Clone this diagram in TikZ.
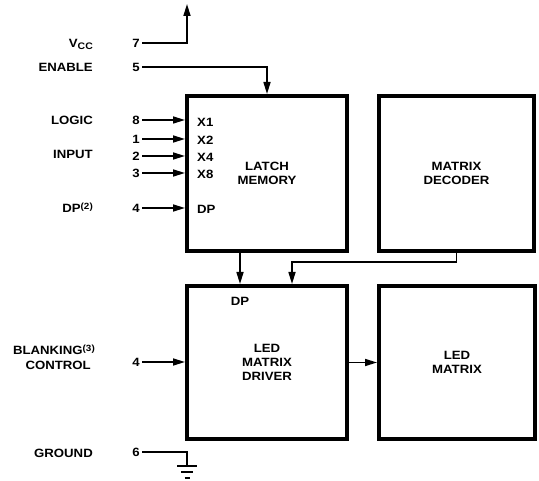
\documentclass[tikz,border=0pt]{standalone}
\usepackage{fontspec}
\setmainfont{Liberation Sans}[FakeStretch=1.1]
\usetikzlibrary{arrows.meta}
\begin{document}
\begin{tikzpicture}[x=1pt,y=-1pt,
  font=\bfseries\fontsize{12}{14}\selectfont,
  blk/.style={draw, rectangle, line width=4pt, inner sep=0pt, align=center},
  wire/.style={line width=1.6pt},
  arr/.style={wire, -{Triangle[length=12pt,width=7pt]}},
  txt/.style={inner sep=0pt, text height=8.6pt, text depth=0pt},
  lbl/.style={txt, anchor=east},
  pinno/.style={txt, outer sep=2.5pt},
  inlbl/.style={txt, anchor=west}]
\useasboundingbox (0,0) rectangle (539,481);

% blocks
\node[blk, minimum width=160pt, minimum height=155pt] (latch) at (267,173.5) {LATCH\\MEMORY};
\node[blk, minimum width=155pt, minimum height=155pt] (decoder) at (456.5,173.5) {MATRIX\\DECODER};
\node[blk, minimum width=160pt, minimum height=153pt] (driver) at (267,362.5) {LED\\MATRIX\\DRIVER};
\node[blk, minimum width=156pt, minimum height=153pt] (ledm) at (457,362.5) {LED\\MATRIX};

% left labels
\node[lbl] (lvcc) at (93,43) {V\raisebox{-2pt}{\fontsize{9.5}{9}\selectfont CC}};
\node[lbl] (lenable) at (93,67) {ENABLE};
\node[lbl] (llogic) at (93,120) {LOGIC};
\node[lbl] (linput) at (93,154) {INPUT};
\node[lbl] (ldp) at (93,208) {DP\raisebox{2.5pt}{\fontsize{9}{9}\selectfont(2)}};
\node[lbl] (lblank) at (95,350) {BLANKING\raisebox{2.5pt}{\fontsize{9}{9}\selectfont(3)}};
\node[lbl] (lcontrol) at (91,365) {CONTROL};
\node[lbl] (lground) at (93,453) {GROUND};

% pin numbers
\node[pinno] (p7) at (136,43) {7};
\node[pinno] (p5) at (136,67) {5};
\node[pinno] (p8) at (136,120) {8};
\node[pinno] (p1) at (136,139) {1};
\node[pinno] (p2) at (136,156) {2};
\node[pinno] (p3) at (136,173) {3};
\node[pinno] (p4) at (136,208) {4};
\node[pinno] (p4b) at (136,362) {4};
\node[pinno] (p6) at (136,452) {6};

% inner labels
\node[inlbl] (x1) at (197,122) {X1};
\node[inlbl] (x2) at (197,140) {X2};
\node[inlbl] (x4) at (197,157) {X4};
\node[inlbl] (x8) at (197,174) {X8};
\node[inlbl] (xdp) at (197,209) {DP};
\node[txt] (ddp) at (240,301) {DP};

% connectors
\coordinate (vcctop) at (187,4);
\draw[arr] (p7.east) -| (vcctop);
\draw[arr] (p5.east) -| (latch.north);
\foreach \p in {p8,p1,p2,p3,p4}
  \draw[arr] (\p.east) -- (\p.east -| latch.west);
\draw[arr] (p4b.east) -- (p4b.east -| driver.west);
\draw[arr] ([xshift=-27pt]latch.south) -- ([xshift=-27pt]driver.north);
\draw[arr] (decoder.south) -- ++(0,9) -| ([xshift=25pt]driver.north);
\draw[arr] (driver.east) -- (ledm.west);

% ground
\coordinate (gnd) at (187,466);
\draw[wire] (p6.east) -| (gnd);
\draw[wire] ([xshift=-10pt]gnd) -- ([xshift=10pt]gnd);
\draw[wire] ([xshift=-6pt,yshift=-6pt]gnd) -- ([xshift=6pt,yshift=-6pt]gnd);
\draw[wire] ([xshift=-2.5pt,yshift=-12pt]gnd) -- ([xshift=2.5pt,yshift=-12pt]gnd);
\end{tikzpicture}
\end{document}
